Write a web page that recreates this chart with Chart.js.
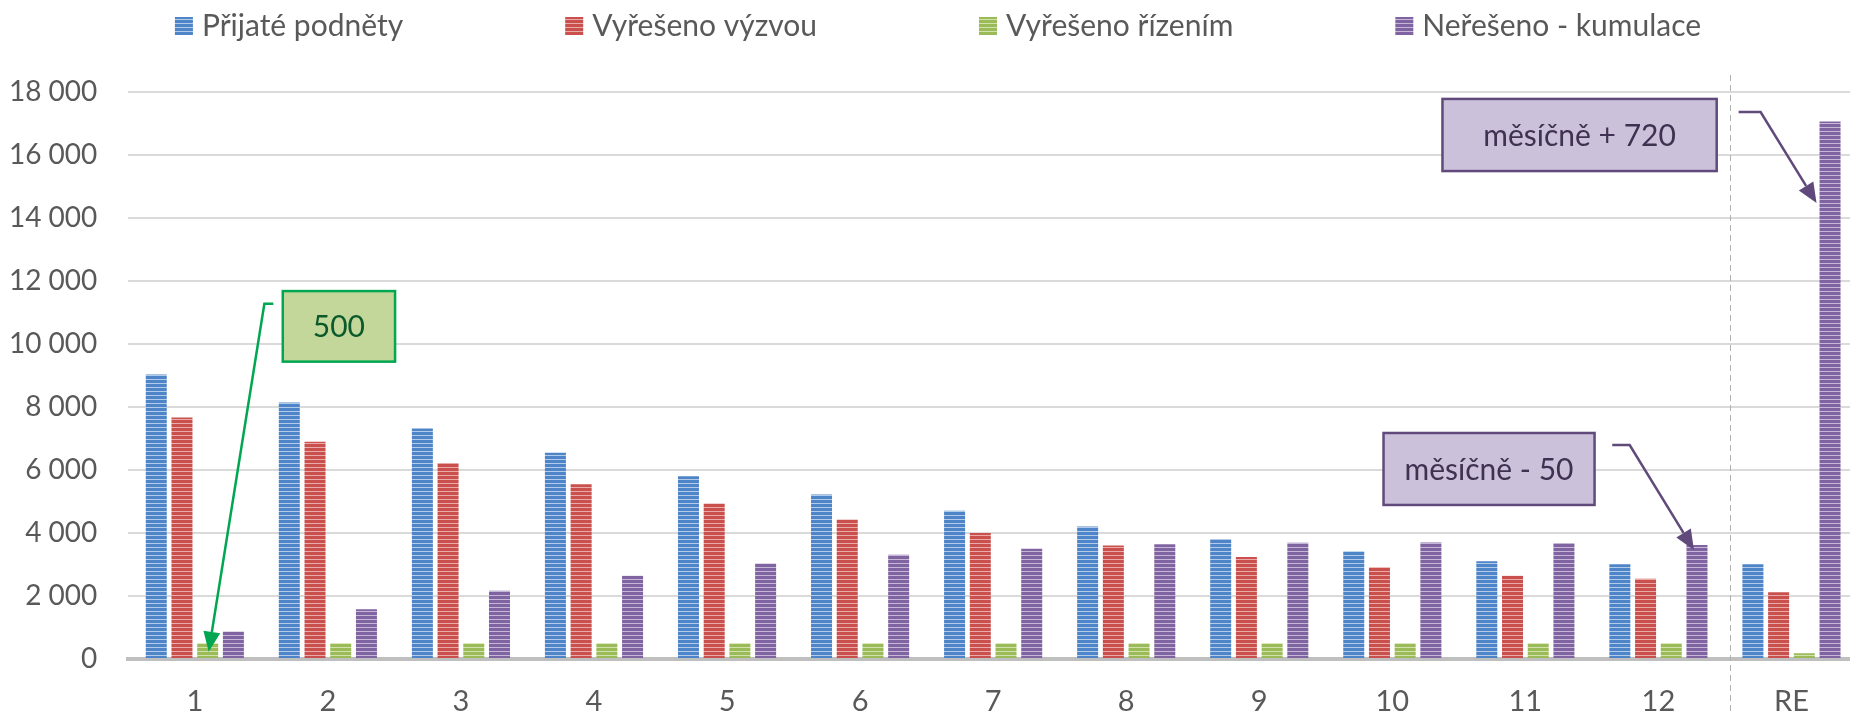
<!DOCTYPE html>
<html>
<head>
<meta charset="utf-8">
<script src="https://cdn.jsdelivr.net/npm/chart.js@4/dist/chart.umd.min.js"></script>
<style>
    html, body { margin: 0; padding: 0; background: #fff; overflow: hidden; }
    #wrap { width: 1858px; height: 711px; }
</style>
</head>
<body>
<div id="wrap"><canvas id="chart" width="1858" height="711"></canvas></div>
<script>
// Données du graphique
const categories = ['1', '2', '3', '4', '5', '6', '7', '8', '9', '10', '11', '12', 'RE'];
const prijatePodnety = [9030, 8140, 7320, 6550, 5800, 5220, 4710, 4210, 3810, 3420, 3100, 3010, 3010];
const vyresenoVyzvou = [7670, 6900, 6220, 5550, 4940, 4430, 4000, 3600, 3240, 2910, 2640, 2550, 2120];
const vyresenoRizenim = [500, 500, 500, 500, 500, 500, 500, 500, 500, 500, 500, 500, 180];
const neresenoKumulace = [870, 1580, 2170, 2640, 3030, 3310, 3500, 3640, 3690, 3700, 3680, 3620, 17060];
const seriesNames = ['Přijaté podněty', 'Vyřešeno výzvou', 'Vyřešeno řízením', 'Neřešeno - kumulace'];
const yMin = 0, yMax = 18000, yStep = 2000;

const FONT = 'Lato, "Open Sans", sans-serif';

// Motif à rayures horizontales (comme le remplissage Excel)
const stripes = (fg, light) => {
    const c = document.createElement('canvas');
    c.width = 4; c.height = 4;
    const g = c.getContext('2d');
    g.fillStyle = fg;
    g.fillRect(0, 0, 4, 4);
    g.fillStyle = light;
    g.fillRect(0, 3, 4, 1);
    return g.createPattern(c, 'repeat');
};

const fills = [
    stripes('#4d85c8', '#b3cbe8'),
    stripes('#c9504d', '#eaaaa8'),
    stripes('#9bbb59', '#d2e2ad'),
    stripes('#8064a2', '#c6b6d8')
];

const formatThousands = v => String(v).replace(/\B(?=(\d{3})+(?!\d))/g, ' ');

// Annotations : boîte [x0, x1, yHaut, yBas] en unités des échelles
const annotations = [
    { text: '500', box: [0.661, 1.505, 11680, 9440], fill: '#c4d79b', stroke: '#00a650', color: '#0b5a2b',
      line: [[0.590, 11280], [0.5226, 11280]], target: { ds: 2, idx: 0, dx: 1, value: 230 } },
    { text: 'měsíčně - 50', box: [8.934, 10.52, 7175, 4890], fill: '#ccc1da', stroke: '#604a7b', color: '#3f3151',
      line: [[10.653, 6794], [10.784, 6794]], target: { ds: 3, idx: 11, dx: -3, value: 3460 } },
    { text: 'měsíčně + 720', box: [9.377, 11.438, 17780, 15490], fill: '#ccc1da', stroke: '#604a7b', color: '#3f3151',
      line: [[11.603, 17365], [11.768, 17365]], target: { ds: 3, idx: 12, dx: -13.5, value: 14476 } }
];

const legendPlugin = {
    id: 'customLegend',
    afterDraw(chart) {
        const ctx = chart.ctx;
        const box = 18, gapText = 9, gapItem = 162;
        ctx.save();
        ctx.font = '30px ' + FONT;
        const widths = seriesNames.map(n => box + gapText + ctx.measureText(n).width);
        const total = widths.reduce((a, b) => a + b, 0) + gapItem * (widths.length - 1);
        let x = chart.width / 2 + 9 - total / 2;
        seriesNames.forEach((name, i) => {
            ctx.fillStyle = fills[i];
            ctx.fillRect(x, 17, box, box);
            ctx.fillStyle = '#595959';
            ctx.textBaseline = 'alphabetic';
            ctx.textAlign = 'left';
            ctx.fillText(name, x + box + gapText, 36);
            x += widths[i] + gapItem;
        });
        ctx.restore();
    }
};

const separatorPlugin = {
    id: 'separator',
    beforeDatasetsDraw(chart) {
        const ctx = chart.ctx;
        const x = Math.round(chart.scales.x.getPixelForValue(11.54)) + 0.5;
        ctx.save();
        ctx.strokeStyle = '#b0b0b0';
        ctx.lineWidth = 1;
        ctx.setLineDash([6, 4]);
        ctx.beginPath();
        ctx.moveTo(x, 75);
        ctx.lineTo(x, chart.height);
        ctx.stroke();
        ctx.restore();
    }
};

const calloutPlugin = {
    id: 'callouts',
    afterDatasetsDraw(chart) {
        const ctx = chart.ctx;
        const xs = chart.scales.x, ys = chart.scales.y;
        annotations.forEach(a => {
            const bar = chart.getDatasetMeta(a.target.ds).data[a.target.idx];
            const tx = bar.x + a.target.dx, ty = ys.getPixelForValue(a.target.value);
            const pts = a.line.map(p => [xs.getPixelForValue(p[0]), ys.getPixelForValue(p[1])]);
            const last = pts[pts.length - 1];
            const ang = Math.atan2(ty - last[1], tx - last[0]);
            const headLen = 20, headW = 8.5;
            const bx = tx - headLen * Math.cos(ang), by = ty - headLen * Math.sin(ang);

            ctx.save();
            ctx.strokeStyle = a.stroke;
            ctx.fillStyle = a.stroke;
            ctx.lineWidth = 2.5;
            ctx.beginPath();
            ctx.moveTo(pts[0][0], pts[0][1]);
            pts.slice(1).forEach(p => ctx.lineTo(p[0], p[1]));
            ctx.lineTo(bx, by);
            ctx.stroke();
            ctx.beginPath();
            ctx.moveTo(tx, ty);
            ctx.lineTo(bx + headW * Math.sin(ang), by - headW * Math.cos(ang));
            ctx.lineTo(bx - headW * Math.sin(ang), by + headW * Math.cos(ang));
            ctx.closePath();
            ctx.fill();

            const x0 = xs.getPixelForValue(a.box[0]), x1 = xs.getPixelForValue(a.box[1]);
            const y0 = ys.getPixelForValue(a.box[2]), y1 = ys.getPixelForValue(a.box[3]);
            ctx.fillStyle = a.fill;
            ctx.fillRect(x0, y0, x1 - x0, y1 - y0);
            ctx.strokeRect(x0, y0, x1 - x0, y1 - y0);
            ctx.fillStyle = a.color;
            ctx.font = '30px ' + FONT;
            ctx.textAlign = 'center';
            ctx.textBaseline = 'middle';
            ctx.fillText(a.text, (x0 + x1) / 2, (y0 + y1) / 2 + 1);
            ctx.restore();
        });
    }
};

const seriesData = [prijatePodnety, vyresenoVyzvou, vyresenoRizenim, neresenoKumulace];

new Chart(document.getElementById('chart').getContext('2d'), {
    type: 'bar',
    data: {
        labels: categories,
        datasets: seriesData.map((d, i) => ({
            label: seriesNames[i],
            data: d,
            backgroundColor: fills[i],
            borderWidth: 0,
            categoryPercentage: 0.773,
            barPercentage: 0.817
        }))
    },
    options: {
        responsive: false,
        animation: false,
        layout: { padding: { top: 92, left: 0, right: 0, bottom: 0 } },
        plugins: {
            legend: { display: false },
            tooltip: { enabled: false }
        },
        scales: {
            x: {
                grid: { display: false },
                border: { color: '#bfbfbf', width: 4 },
                ticks: { color: '#595959', font: { family: FONT, size: 29 }, padding: 17, maxRotation: 0 },
                afterFit: s => { s.height = 52; }
            },
            y: {
                min: yMin,
                max: yMax,
                border: { display: false },
                grid: {
                    color: ctx => ctx.tick && ctx.tick.value === 0 ? 'rgba(0,0,0,0)' : '#dadada',
                    lineWidth: 2,
                    drawTicks: false
                },
                ticks: {
                    stepSize: yStep,
                    color: '#595959',
                    font: { family: FONT, size: 28 },
                    padding: 31,
                    callback: v => formatThousands(v)
                },
                afterFit: s => { s.width = 128.3; }
            }
        }
    },
    plugins: [separatorPlugin, calloutPlugin, legendPlugin]
});
</script>
</body>
</html>
